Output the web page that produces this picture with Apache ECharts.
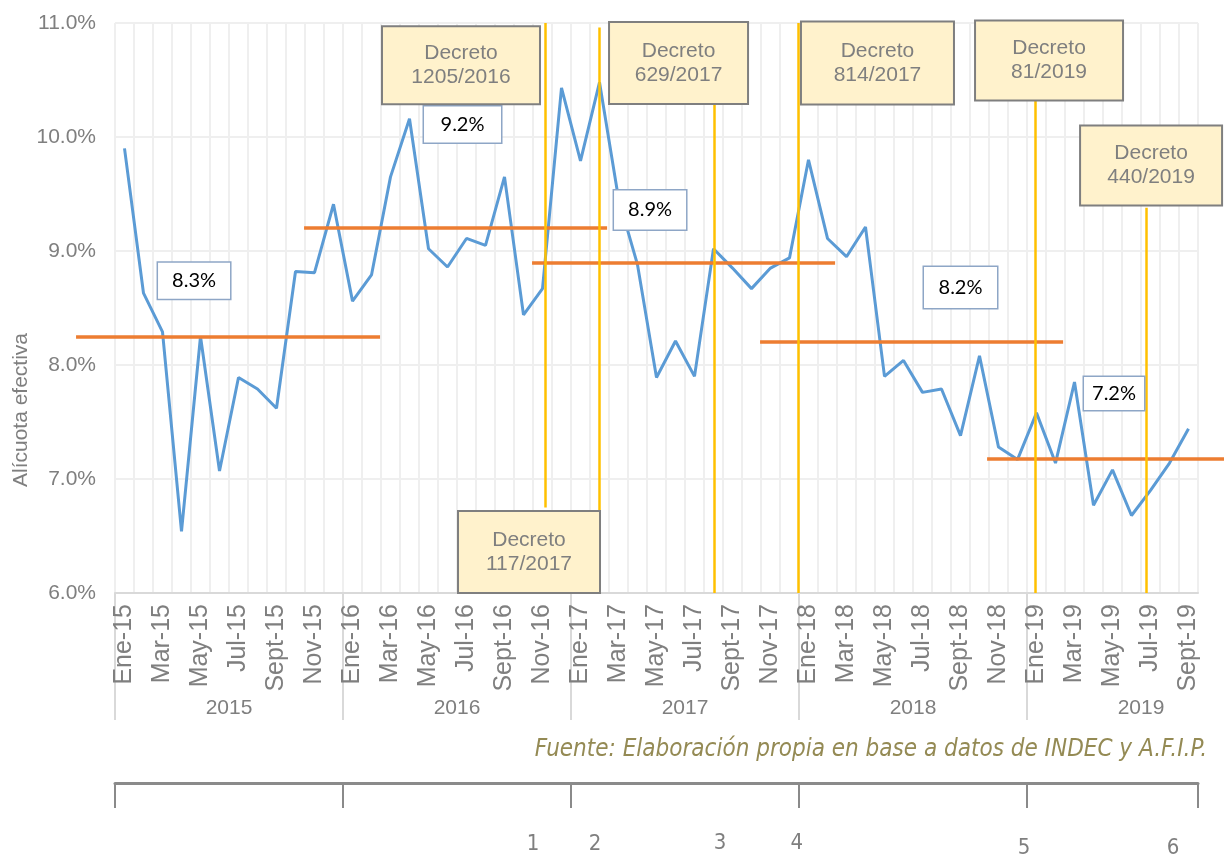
<!DOCTYPE html>
<html>
<head>
<meta charset="utf-8">
<script src="https://cdn.jsdelivr.net/npm/echarts@6/dist/echarts.min.js"></script>
<style>
html,body{margin:0;padding:0;background:#ffffff;}
#chart{width:1224px;height:855px;}
</style>
</head>
<body>
<div id="chart"></div>
<script>
// ---------------- DATA ----------------
const years = ['2015', '2016', '2017', '2018', '2019'];
const monthNames = ['Ene', 'Feb', 'Mar', 'Abr', 'May', 'Jun', 'Jul', 'Ago', 'Sept', 'Oct', 'Nov', 'Dic'];
const monthsPerYear = [12, 12, 12, 12, 9];

// Alícuota efectiva (%), Ene-15 ... Sept-19
const alicuota = [
  9.90, 8.63, 8.29, 6.54, 8.25, 7.07, 7.89, 7.79, 7.62, 8.82, 8.81, 9.41,
  8.56, 8.79, 9.65, 10.16, 9.02, 8.86, 9.11, 9.05, 9.65, 8.44, 8.67, 10.43,
  9.79, 10.48, 9.46, 8.88, 7.89, 8.21, 7.90, 9.02, 8.85, 8.67, 8.85, 8.94,
  9.80, 9.11, 8.95, 9.21, 7.90, 8.04, 7.76, 7.79, 7.38, 8.08, 7.28, 7.17,
  7.58, 7.14, 7.85, 6.77, 7.08, 6.68, 6.90, 7.14, 7.44
];

// Y axis
const yMin = 6, yMax = 11, yStep = 1;

// Average segments (x in months counted from the start of Ene-15)
const avgValues = [8.25, 9.20, 8.90, 8.20, 7.18];
const avgLabels = ['8.3%', '9.2%', '8.9%', '8.2%', '7.2%'];
const avgStart = [-2.05, 9.95, 21.95, 33.95, 45.9];
const avgEnd = [13.95, 25.9, 37.9, 49.9, 58.4];
const avgLabelX = [4.16, 18.29, 28.16, 44.5, 52.58];
const avgLabelY = [8.74, 10.11, 9.36, 8.68, 7.75];

// Decrees
const decretos = ['Decreto\n1205/2016', 'Decreto\n117/2017', 'Decreto\n629/2017', 'Decreto\n814/2017', 'Decreto\n81/2019', 'Decreto\n440/2019'];
const decretoX = [22.66, 25.51, 31.53, 35.95, 48.42, 54.27];
const decretoTop = [11.0, 10.96, 10.29, 11.0, 10.32, 9.38];
const decretoBottom = [6.75, 6.0, 6.0, 6.0, 6.0, 6.0];
const decretoBoxX = [18.21, 21.79, 29.66, 40.13, 49.16, 54.53];
const decretoBoxY = [10.63, 6.36, 10.65, 10.65, 10.67, 9.75];

// Bottom timeline markers
const marcas = ['1', '2', '3', '4', '5', '6'];
const marcaX = [22.0, 25.26, 31.84, 35.89, 47.84, 55.68];
const marcaY = [0.05, 0.05, 0.08, 0.08, 0, 0];

// ---------------- LAYOUT / STYLE ----------------
const decretoBoxSize = [[156, 76], [140, 80], [137, 80], [151, 81], [146, 78], [140, 78]];
const avgBoxSize = [[72, 36], [77, 36], [72, 39], [73, 41], [60, 33]];

const months = [];
years.forEach((y, i) => {
  for (let m = 0; m < monthsPerYear[i]; m++) months.push(monthNames[m] + '-' + y.slice(2));
});
const nMonths = months.length;
const yearTickPos = years.map((y, i) => i * 12);
const yearLabelPos = years.map((y, i) => i * 12 + 6);

const GREY = '#7f7f7f';
const FONT = '"Liberation Sans", Arial, sans-serif';
const NARROW = '"Liberation Sans Narrow", "DejaVu Sans Condensed", "Liberation Sans", sans-serif';

const chart = echarts.init(document.getElementById('chart'), null, {renderer: 'canvas'});

const noFx = {textBorderWidth: 0, textBorderColor: 'transparent', textShadowBlur: 0, shadowBlur: 0, shadowColor: 'transparent'};

const option = {
  animation: false,
  backgroundColor: '#ffffff',
  textStyle: {fontFamily: FONT},
  grid: [
    {left: 115, right: 26, top: 23, bottom: 262, outerBoundsMode: 'none', containLabel: false},
    {left: 115, right: 26, top: 783, height: 65, outerBoundsMode: 'none', containLabel: false}
  ],
  xAxis: [
    {
      type: 'category', gridIndex: 0, position: 'bottom', data: months, boundaryGap: true,
      axisLine: {show: true, onZero: false, lineStyle: {color: '#d9d9d9', width: 2}},
      axisTick: {show: false},
      axisLabel: {interval: 1, rotate: 90, fontSize: 25, color: GREY, margin: 11, fontFamily: FONT},
      splitLine: {show: true, interval: 0, lineStyle: {color: '#efefef', width: 2}}
    },
    {
      type: 'value', gridIndex: 0, position: 'bottom', min: 0, max: nMonths,
      axisLine: {show: false, onZero: false},
      axisTick: {show: true, customValues: yearTickPos, length: 127, lineStyle: {color: '#d9d9d9', width: 2}},
      axisLabel: {show: true, customValues: yearLabelPos, margin: 105, fontSize: 21, color: GREY, fontFamily: FONT,
        formatter: v => years[Math.round((v - 6) / 12)]},
      splitLine: {show: false}
    },
    {
      type: 'value', gridIndex: 0, min: 0, max: nMonths, show: false
    },
    {
      type: 'value', gridIndex: 1, position: 'top', min: 0, max: nMonths,
      axisLine: {show: true, onZero: false, lineStyle: {color: '#8a8a8a', width: 3}},
      axisTick: {show: true, inside: true, customValues: yearTickPos.concat([nMonths]), length: 25, lineStyle: {color: '#8a8a8a', width: 2}},
      axisLabel: {show: false},
      splitLine: {show: false}
    }
  ],
  yAxis: [
    {
      type: 'value', gridIndex: 0, min: yMin, max: yMax, interval: yStep,
      axisLine: {show: false},
      axisTick: {show: false},
      axisLabel: {fontSize: 21, color: GREY, margin: 19, fontFamily: FONT, formatter: v => v.toFixed(1) + '%'},
      splitLine: {show: true, lineStyle: {color: '#efefef', width: 2}}
    },
    {type: 'value', gridIndex: 1, min: 0, max: 1, show: false}
  ],
  graphic: [
    {
      type: 'text', x: 21, y: 410, rotation: Math.PI / 2,
      style: {text: 'Alícuota efectiva', align: 'center', verticalAlign: 'middle', fontSize: 21, fontFamily: FONT, fill: GREY}
    },
    {
      type: 'text', x: 1207, y: 750,
      style: {text: 'Fuente: Elaboración propia en base a datos de INDEC y A.F.I.P.', align: 'right', verticalAlign: 'middle',
        fontSize: 24, fontStyle: 'italic', fontFamily: NARROW, fill: '#948A54'}
    }
  ],
  series: [
    {
      name: 'Alícuota efectiva', type: 'line', xAxisIndex: 0, yAxisIndex: 0, data: alicuota,
      symbol: 'none', smooth: false, z: 3,
      lineStyle: {color: '#5B9BD5', width: 3}
    },
    {
      name: 'Promedios', type: 'lines', coordinateSystem: 'cartesian2d', xAxisIndex: 2, yAxisIndex: 0, clip: false, z: 4,
      lineStyle: {color: '#ED7D31', width: 3.5, opacity: 1, curveness: 0},
      data: avgValues.map((v, i) => ({coords: [[avgStart[i], v], [avgEnd[i], v]]}))
    },
    {
      name: 'Decretos', type: 'lines', coordinateSystem: 'cartesian2d', xAxisIndex: 2, yAxisIndex: 0, clip: false, z: 5,
      lineStyle: {color: '#FFC000', width: 2.5, opacity: 1, curveness: 0},
      data: decretoX.map((x, i) => ({coords: [[x, decretoTop[i]], [x, decretoBottom[i]]]}))
    },
    {
      name: 'Etiquetas promedio', type: 'scatter', xAxisIndex: 2, yAxisIndex: 0, z: 6,
      symbol: 'circle', symbolSize: 1, itemStyle: {color: 'rgba(0,0,0,0)', opacity: 1}, silent: true,
      data: avgLabels.map((t, i) => ({
        value: [avgLabelX[i], avgLabelY[i]], name: t,
        label: {width: avgBoxSize[i][0], height: avgBoxSize[i][1], lineHeight: avgBoxSize[i][1]}
      })),
      label: Object.assign({
        show: true, position: 'inside', formatter: p => p.name, align: 'center', verticalAlign: 'middle',
        backgroundColor: '#ffffff', borderColor: '#8EA6C6', borderWidth: 1.5, padding: 0,
        fontSize: 20, fontFamily: 'Lato, "Open Sans", sans-serif', color: '#000000'
      }, noFx)
    },
    {
      name: 'Cajas decretos', type: 'scatter', xAxisIndex: 2, yAxisIndex: 0, z: 7,
      symbol: 'circle', symbolSize: 1, itemStyle: {color: 'rgba(0,0,0,0)', opacity: 1}, silent: true,
      data: decretos.map((t, i) => ({
        value: [decretoBoxX[i], decretoBoxY[i]], name: t,
        label: {width: decretoBoxSize[i][0], height: decretoBoxSize[i][1] - 11}
      })),
      label: Object.assign({
        show: true, position: 'inside', formatter: p => p.name, align: 'center', verticalAlign: 'middle',
        backgroundColor: '#FFF2CC', borderColor: '#7f7f7f', borderWidth: 2, padding: [11, 0, 0, 0],
        lineHeight: 24, fontSize: 21, fontFamily: FONT, color: GREY
      }, noFx)
    },
    {
      name: 'Marcas', type: 'scatter', xAxisIndex: 3, yAxisIndex: 1, z: 6,
      symbol: 'circle', symbolSize: 1, itemStyle: {color: 'rgba(0,0,0,0)', opacity: 1}, silent: true,
      data: marcas.map((t, i) => ({value: [marcaX[i], marcaY[i]], name: t})),
      label: Object.assign({show: true, position: 'inside', formatter: p => p.name, fontSize: 22, fontFamily: NARROW, color: GREY}, noFx)
    }
  ]
};

chart.setOption(option);
</script>
</body>
</html>
